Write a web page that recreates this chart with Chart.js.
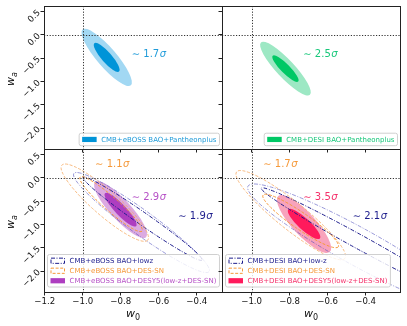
<!DOCTYPE html>
<html><head><meta charset="utf-8">
<script src="https://cdn.jsdelivr.net/npm/chart.js@4.4.0/dist/chart.umd.min.js"></script>
<style>
html,body{margin:0;padding:0;background:#fff;}
body{width:407px;height:326px;position:relative;overflow:hidden}
canvas{position:absolute;left:0;top:0}
</style></head><body>
<canvas id="c0" width="407" height="326"></canvas>
<canvas id="c1" width="407" height="326"></canvas>
<canvas id="c2" width="407" height="326"></canvas>
<canvas id="c3" width="407" height="326"></canvas>
<script>
// ---------------- data ----------------
const xTicks = [-1.2, -1.0, -0.8, -0.6, -0.4];
const yTicks = [0.5, 0.0, -0.5, -1.0, -1.5, -2.0];
const lcdmW0 = -1.0;
const lcdmWa = 0.0;

// series (one legend entry each)
const seriesNames = [
  'CMB+eBOSS BAO+Pantheonplus',
  'CMB+DESI BAO+Pantheonplus',
  'CMB+eBOSS BAO+lowz',
  'CMB+eBOSS BAO+DES-SN',
  'CMB+eBOSS BAO+DESY5(low-z+DES-SN)',
  'CMB+DESI BAO+low-z',
  'CMB+DESI BAO+DES-SN',
  'CMB+DESI BAO+DESY5(low-z+DES-SN)'
];
const seriesPanel = [0, 1, 2, 2, 2, 3, 3, 3];
const seriesSigma = ['1.7', '2.5', '1.9', '1.1', '2.9', '2.1', '1.7', '3.5'];

// contours: 68% (level 1) and 95% (level 2) regions, as ellipses
// centre (w0, wa), end of the long axis (w0, wa), short/long axis ratio
const contourSeries = [0, 0, 1, 1, 2, 2, 3, 3, 4, 4, 5, 5, 6, 6, 7, 7];
const contourLevel  = [2, 1, 2, 1, 2, 1, 2, 1, 2, 1, 2, 1, 2, 1, 2, 1];
const centerW0 = [-0.874, -0.874, -0.822, -0.822, -0.691, -0.685, -0.884, -0.851, -0.801, -0.801, -0.443, -0.441, -0.794, -0.742, -0.724, -0.724];
const centerWa = [-0.483, -0.483, -0.725, -0.725, -0.959, -0.876, -0.532, -0.564, -0.682, -0.682, -1.472, -1.358, -0.800, -0.925, -0.989, -0.989];
const tipW0    = [-0.747, -0.809, -0.693, -0.755, -0.335, -0.372, -0.658, -0.688, -0.667, -0.719,  0.133,  0.067, -0.509, -0.544, -0.588, -0.641];
const tipWa    = [-1.084, -0.788, -1.288, -1.002, -2.013, -1.766, -1.337, -1.144, -1.273, -1.036, -2.766, -2.496, -1.730, -1.481, -1.588, -1.300];
const axisRatio = [0.26, 0.27, 0.25, 0.25, 0.145, 0.085, 0.22, 0.17, 0.27, 0.24, 0.15, 0.064, 0.20, 0.18, 0.30, 0.27];

// ---------------- styles / layout ----------------
const W = 407, H = 326;
const NAVY_DASH = [4, 1.5, 1, 1.5];
const ORANGE_DASH = [3, 1.6];
const seriesStyle = [
  {kind: 'fill', inner: '#0094d8', outer: '#a2d8f3', text: '#1f9bd9'},
  {kind: 'fill', inner: '#00c865', outer: '#9de8c4', text: '#17c77a'},
  {kind: 'line', dash: NAVY_DASH, inner: '#1c1c8c', outer: 'rgba(70,70,185,0.55)', text: '#1c1c8c'},
  {kind: 'line', dash: ORANGE_DASH, inner: '#f5993a', outer: 'rgba(245,165,90,0.75)', text: '#f5993a'},
  {kind: 'fill', inner: '#ae3ec0', outer: '#dcaae1', text: '#b650c6'},
  {kind: 'line', dash: NAVY_DASH, inner: '#1c1c8c', outer: 'rgba(70,70,185,0.55)', text: '#1c1c8c'},
  {kind: 'line', dash: ORANGE_DASH, inner: '#f5993a', outer: 'rgba(245,165,90,0.75)', text: '#f5993a'},
  {kind: 'fill', inner: '#ff1a5c', outer: '#f8a3bc', text: '#f5306a'}
];
// sigma-label anchors in data coordinates (left edge, vertical middle)
const sigmaAnchor = [
  [-0.742, -0.414], [-0.728, -0.414], [-0.497, -0.837], [-0.935, 0.288],
  [-0.742, -0.429], [-0.468, -0.837], [-0.939, 0.288], [-0.728, -0.429]
];
const panels = [
  {L: 44,  T: 6,   R: 222, B: 149, xmin: -1.204, xmax: -0.267, xlab: false, ylab: true,  legend: 'lr'},
  {L: 222, T: 6,   R: 400, B: 149, xmin: -1.156, xmax: -0.219, xlab: false, ylab: false, legend: 'lr'},
  {L: 44,  T: 149, R: 222, B: 292, xmin: -1.204, xmax: -0.267, xlab: true,  ylab: true,  legend: 'll'},
  {L: 222, T: 149, R: 400, B: 292, xmin: -1.156, xmax: -0.219, xlab: true,  ylab: false, legend: 'll'}
];
const YMIN = -2.45, YMAX = 0.62;
const FONT = '"DejaVu Sans", "Liberation Sans", sans-serif';
const fmt = v => (v < -1e-9 ? '\u2212' : '') + Math.abs(v).toFixed(1);

function ellipsePath(ctx, xs, ys, k) {
  const cx = xs.getPixelForValue(centerW0[k]), cy = ys.getPixelForValue(centerWa[k]);
  const tx = xs.getPixelForValue(tipW0[k]), ty = ys.getPixelForValue(tipWa[k]);
  const a = Math.hypot(tx - cx, ty - cy);
  ctx.beginPath();
  ctx.ellipse(cx, cy, a, a * axisRatio[k], Math.atan2(ty - cy, tx - cx), 0, Math.PI * 2);
}

function subText(ctx, x, y, main, sub, size, align) {
  // italic main letter with a small subscript; x,y = centre of the whole
  ctx.save();
  ctx.textBaseline = 'alphabetic';
  ctx.font = 'italic ' + size + 'px ' + FONT;
  const mw = ctx.measureText(main).width;
  const subItalic = sub !== '0';
  ctx.font = (subItalic ? 'italic ' : '') + Math.round(size * 0.7) + 'px ' + FONT;
  const sw = ctx.measureText(sub).width;
  const x0 = x - (mw + sw) / 2;
  ctx.font = 'italic ' + size + 'px ' + FONT;
  ctx.fillText(main, x0, y + size * 0.3);
  ctx.font = (subItalic ? 'italic ' : '') + Math.round(size * 0.7) + 'px ' + FONT;
  ctx.fillText(sub, x0 + mw, y + size * 0.55);
  ctx.restore();
}

function roundRect(ctx, x, y, w, h, r) {
  ctx.beginPath();
  ctx.moveTo(x + r, y); ctx.lineTo(x + w - r, y); ctx.arcTo(x + w, y, x + w, y + r, r);
  ctx.lineTo(x + w, y + h - r); ctx.arcTo(x + w, y + h, x + w - r, y + h, r);
  ctx.lineTo(x + r, y + h); ctx.arcTo(x, y + h, x, y + h - r, r);
  ctx.lineTo(x, y + r); ctx.arcTo(x, y, x + r, y, r);
  ctx.closePath();
}

function panelPlugin(p) {
  return {
    id: 'panel' + p,
    beforeDatasetsDraw(chart) {
      const ctx = chart.ctx, xs = chart.scales.x, ys = chart.scales.y, ca = chart.chartArea;
      ctx.save();
      ctx.beginPath(); ctx.rect(ca.left, ca.top, ca.right - ca.left, ca.bottom - ca.top); ctx.clip();
      const ks = contourSeries.map((s, k) => k).filter(k => seriesPanel[contourSeries[k]] === p);
      // filled regions
      ks.filter(k => seriesStyle[contourSeries[k]].kind === 'fill').forEach(k => {
        const st = seriesStyle[contourSeries[k]];
        ellipsePath(ctx, xs, ys, k);
        ctx.fillStyle = contourLevel[k] === 1 ? st.inner : st.outer;
        ctx.fill();
      });
      // line contours
      ks.filter(k => seriesStyle[contourSeries[k]].kind === 'line').forEach(k => {
        const st = seriesStyle[contourSeries[k]];
        ellipsePath(ctx, xs, ys, k);
        ctx.setLineDash(st.dash);
        ctx.lineWidth = 1;
        ctx.strokeStyle = contourLevel[k] === 1 ? st.inner : st.outer;
        ctx.stroke();
      });
      // LCDM reference lines
      ctx.setLineDash([1.2, 1.6]);
      ctx.lineWidth = 1;
      ctx.strokeStyle = '#333';
      const px = Math.round(xs.getPixelForValue(lcdmW0)) + 0.5;
      const py = Math.round(ys.getPixelForValue(lcdmWa)) + 0.5;
      ctx.beginPath(); ctx.moveTo(px, ca.top); ctx.lineTo(px, ca.bottom); ctx.stroke();
      ctx.beginPath(); ctx.moveTo(ca.left, py); ctx.lineTo(ca.right, py); ctx.stroke();
      ctx.setLineDash([]);
      // sigma labels
      seriesPanel.forEach((sp, s) => {
        if (sp !== p) return;
        const x = xs.getPixelForValue(sigmaAnchor[s][0]);
        const y = ys.getPixelForValue(sigmaAnchor[s][1]);
        ctx.fillStyle = seriesStyle[s].text;
        ctx.textBaseline = 'middle';
        ctx.textAlign = 'left';
        ctx.font = '10px ' + FONT;
        const t = '\u223C ' + seriesSigma[s];
        ctx.fillText(t, x, y);
        const w = ctx.measureText(t).width;
        ctx.font = 'italic 10px ' + FONT;
        ctx.fillText('\u03C3', x + w + 0.5, y);
      });
      ctx.restore();
    },
    afterDraw(chart) {
      const ctx = chart.ctx, ca = chart.chartArea, g = panels[p];
      ctx.save();
      // frame
      ctx.strokeStyle = '#222'; ctx.lineWidth = 1;
      ctx.strokeRect(Math.round(ca.left) + 0.5, Math.round(ca.top) + 0.5,
        Math.round(ca.right - ca.left), Math.round(ca.bottom - ca.top));
      // legend
      const entries = seriesPanel.map((sp, s) => s).filter(s => seriesPanel[s] === p);
      ctx.font = '7px ' + FONT;
      const tw = Math.max(...entries.map(s => ctx.measureText(seriesNames[s]).width));
      const rowH = 10, padX = 3, patchW = 14.5, gap = 4.5;
      const bw = padX + patchW + gap + tw + 3;
      const bh = entries.length * rowH + 2.5;
      let bx, by;
      if (g.legend === 'lr') { bx = ca.right - 2.5 - bw; by = ca.bottom - 3.3 - bh; }
      else { bx = ca.left + 3.5; by = ca.bottom - 5 - bh; }
      roundRect(ctx, bx, by, bw, bh, 2);
      ctx.fillStyle = 'rgba(255,255,255,0.82)'; ctx.fill();
      ctx.strokeStyle = '#d0d0d0'; ctx.lineWidth = 1; ctx.stroke();
      entries.forEach((s, i) => {
        const st = seriesStyle[s];
        const cy = by + 1.25 + rowH * (i + 0.5);
        const x0 = bx + padX;
        if (st.kind === 'fill') {
          ctx.fillStyle = st.inner;
          ctx.fillRect(x0, cy - 2.6, patchW, 5.2);
        } else {
          ctx.setLineDash(st.dash); ctx.strokeStyle = st.inner; ctx.lineWidth = 1;
          ctx.strokeRect(x0 + 0.5, cy - 2.6, patchW - 1, 5.2);
          ctx.setLineDash([]);
        }
        ctx.fillStyle = st.text;
        ctx.font = '7px ' + FONT;
        ctx.textBaseline = 'middle'; ctx.textAlign = 'left';
        ctx.fillText(seriesNames[s], x0 + patchW + gap, cy + 0.3);
      });
      // axis titles
      ctx.fillStyle = '#111';
      if (g.xlab) subText(ctx, (ca.left + ca.right) / 2, 314, 'w', '0', 11);
      if (g.ylab) {
        ctx.save();
        ctx.translate(10.5, (ca.top + ca.bottom) / 2 + 1.5);
        ctx.rotate(-Math.PI / 2);
        subText(ctx, 0, 0, 'w', 'a', 11);
        ctx.restore();
      }
      ctx.restore();
    }
  };
}

function makeChart(p) {
  const g = panels[p];
  const yW = g.ylab ? 40 : 4;
  const xH = g.xlab ? 16 : 4;
  const tickCommon = {color: '#111', font: {family: FONT, size: 8.6}, autoSkip: false};
  return new Chart(document.getElementById('c' + p), {
    type: 'scatter',
    data: {datasets: [{data: [], pointRadius: 0}]},
    options: {
      responsive: false, animation: false, events: [],
      layout: {padding: {left: g.L - yW, top: g.T, right: W - g.R, bottom: H - g.B - xH}},
      plugins: {legend: {display: false}, tooltip: {enabled: false}, title: {display: false}},
      scales: {
        x: {
          type: 'linear', min: g.xmin, max: g.xmax,
          afterBuildTicks: s => { s.ticks = xTicks.filter(v => v >= g.xmin && v <= g.xmax).map(v => ({value: v})); },
          afterFit: s => { s.height = xH; s.paddingLeft = 0; s.paddingRight = 0; s.paddingTop = 0; s.paddingBottom = 0; },
          grid: {display: true, drawOnChartArea: false, drawTicks: true, tickLength: 3.5, tickColor: '#222', tickWidth: 1},
          border: {display: true, color: '#222', width: 1},
          ticks: Object.assign({display: g.xlab, padding: 1.5, minRotation: 0, maxRotation: 0, includeBounds: false, callback: v => fmt(v)}, tickCommon)
        },
        y: {
          type: 'linear', min: YMIN, max: YMAX,
          afterBuildTicks: s => { s.ticks = yTicks.map(v => ({value: v})); },
          afterFit: s => { s.width = yW; s.paddingLeft = 0; s.paddingRight = 0; s.paddingTop = 0; s.paddingBottom = 0; },
          grid: {display: true, drawOnChartArea: false, drawTicks: true, tickLength: 3.5, tickColor: '#222', tickWidth: 1},
          border: {display: true, color: '#222', width: 1},
          ticks: Object.assign({display: g.ylab, padding: 1.5, minRotation: 45, maxRotation: 45, includeBounds: false, callback: v => fmt(v)}, tickCommon)
        }
      }
    },
    plugins: [panelPlugin(p)]
  });
}
[0, 1, 2, 3].forEach(makeChart);
</script>
</body></html>
